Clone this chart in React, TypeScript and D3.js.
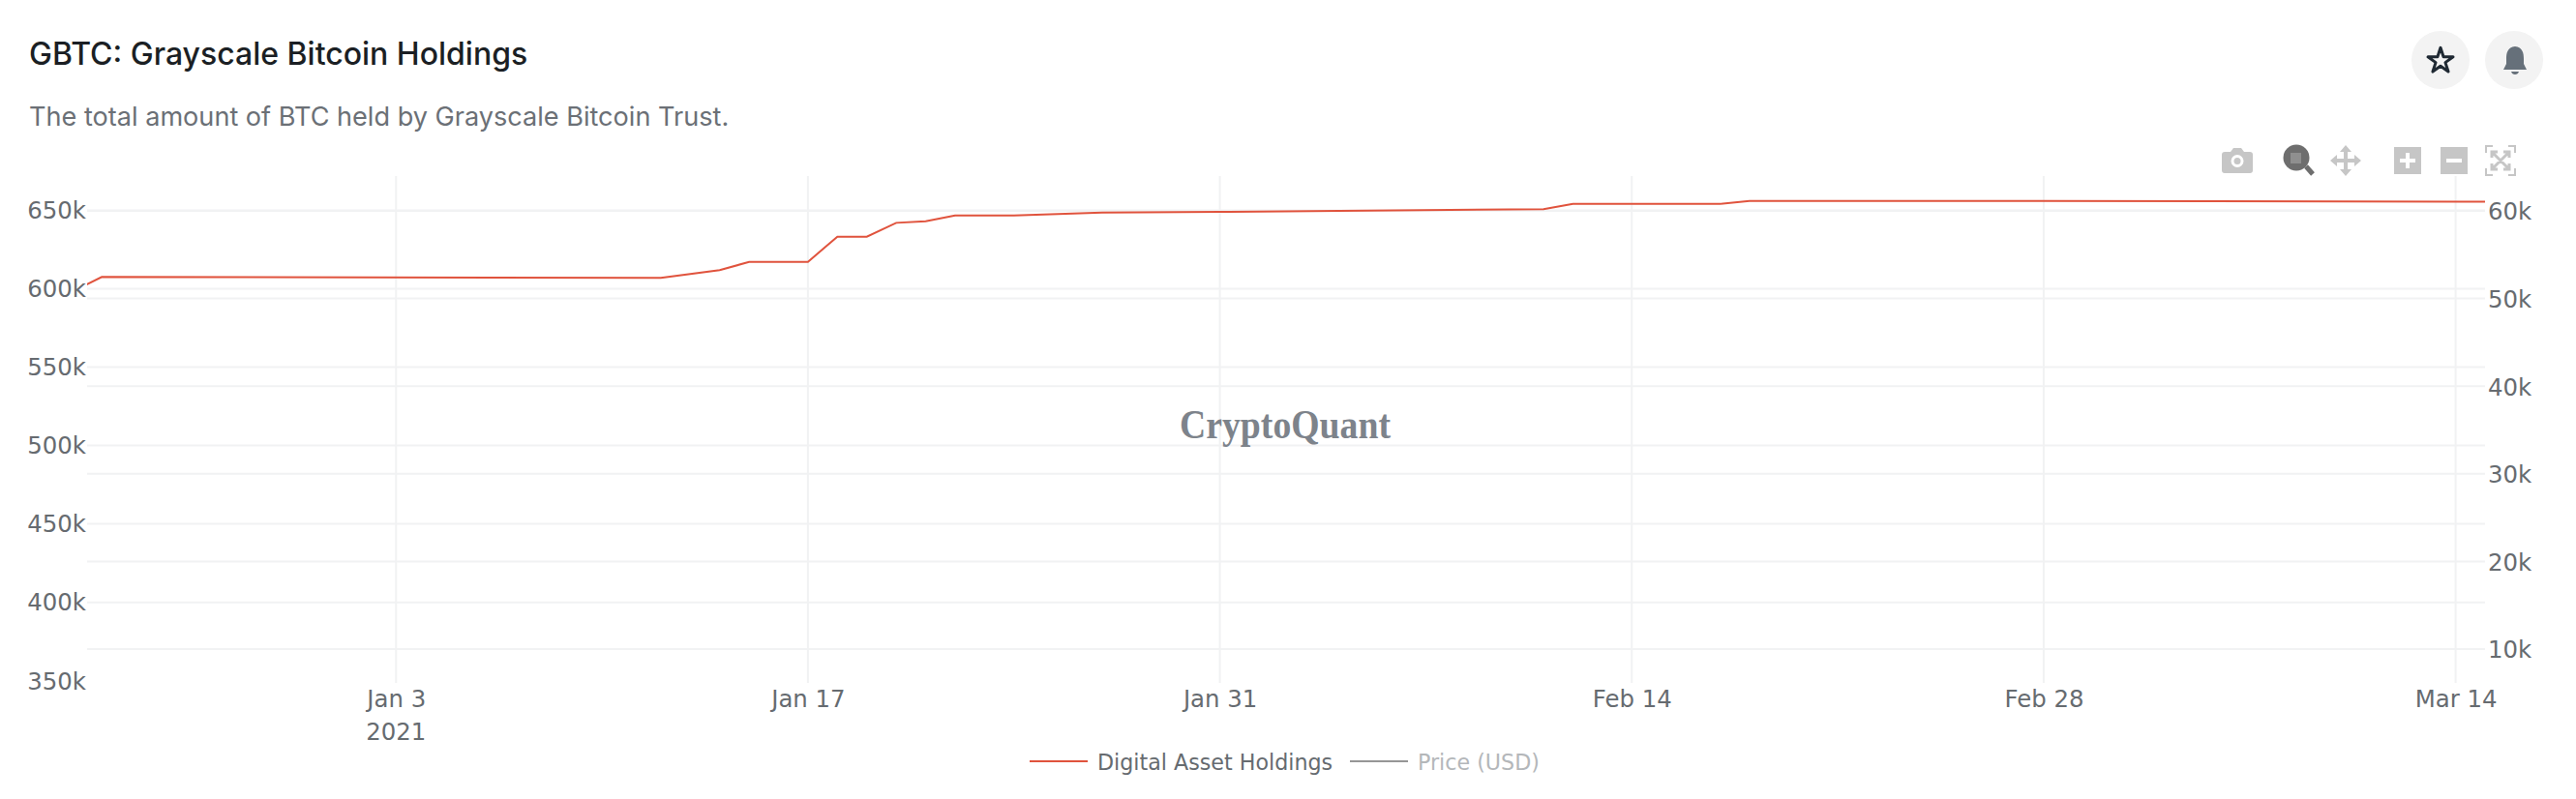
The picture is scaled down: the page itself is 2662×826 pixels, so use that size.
import { useEffect, useRef } from 'react';
import * as d3 from 'd3';

const days = [
  '2020-12-23', '2020-12-24', '2021-01-12', '2021-01-14', '2021-01-15', '2021-01-17',
  '2021-01-18', '2021-01-19', '2021-01-20', '2021-01-21', '2021-01-22', '2021-01-24',
  '2021-01-27', '2021-01-31', '2021-02-11', '2021-02-12', '2021-02-17', '2021-02-18',
  '2021-02-28', '2021-03-15',
];
const holdings = [
  598000, 607500, 606900, 611800, 617100, 617100,
  633200, 633200, 642000, 643000, 646700, 646700,
  648500, 649000, 650700, 654100, 654100, 656000,
  656000, 655500,
];
const leftTicks = [350000, 400000, 450000, 500000, 550000, 600000, 650000];
const rightTicks = [10000, 20000, 30000, 40000, 50000, 60000];
const dateTicks = ['2021-01-03', '2021-01-17', '2021-01-31', '2021-02-14', '2021-02-28', '2021-03-14'];
const dateLabels = ['Jan 3', 'Jan 17', 'Jan 31', 'Feb 14', 'Feb 28', 'Mar 14'];
const legendNames = ['Digital Asset Holdings', 'Price (USD)'];

const WIDTH = 2662;
const HEIGHT = 826;
const margin = { top: 182, right: 94, bottom: 121, left: 90 };
const axisFont = '"DejaVu Sans", sans-serif';
const gridColor = '#f1f2f3';
const textColor = '#666b70';
const iconColor = '#c6c6c6';

const kFormat = (d: d3.NumberValue) => `${+d / 1000}k`;

function drawAxes(svg: d3.Selection<SVGSVGElement, unknown, null, undefined>) {
  const plotRight = WIDTH - margin.right;
  const plotBottom = HEIGHT - margin.bottom;

  const x = d3
    .scaleUtc()
    .domain([new Date(Date.UTC(2020, 11, 23, 12)), new Date(Date.UTC(2021, 2, 15))])
    .range([margin.left, plotRight]);
  const yLeft = d3.scaleLinear().domain([349200, 671840]).range([plotBottom, margin.top]);
  const yRight = d3.scaleLinear().domain([6250, 63970]).range([plotBottom, margin.top]);

  const tickDates = dateTicks.map((d) => new Date(d));

  // grid lines, both y axes draw their own
  svg
    .append('g')
    .selectAll('line')
    .data(tickDates)
    .join('line')
    .attr('x1', (d) => x(d))
    .attr('x2', (d) => x(d))
    .attr('y1', margin.top)
    .attr('y2', plotBottom + 1)
    .attr('stroke', gridColor)
    .attr('stroke-width', 2);

  svg
    .append('g')
    .selectAll('line')
    .data([...leftTicks.slice(1).map((d) => yLeft(d)), ...rightTicks.map((d) => yRight(d))])
    .join('line')
    .attr('x1', margin.left)
    .attr('x2', plotRight)
    .attr('y1', (d) => d)
    .attr('y2', (d) => d)
    .attr('stroke', gridColor)
    .attr('stroke-width', 2);

  const styleAxis = (g: d3.Selection<SVGGElement, unknown, null, undefined>) => {
    g.select('.domain').remove();
    g.selectAll('.tick line').remove();
    g.selectAll('text').attr('fill', textColor).attr('font-family', axisFont).attr('font-size', 24.4);
  };

  svg
    .append('g')
    .attr('transform', `translate(${margin.left - 1},0.5)`)
    .call(d3.axisLeft(yLeft).tickValues(leftTicks).tickFormat(kFormat).tickSize(0).tickPadding(0))
    .call(styleAxis);

  svg
    .append('g')
    .attr('transform', `translate(${plotRight + 3},1)`)
    .call(d3.axisRight(yRight).tickValues(rightTicks).tickFormat(kFormat).tickSize(0).tickPadding(0))
    .call(styleAxis);

  svg
    .append('g')
    .attr('transform', `translate(0,${plotBottom + 9})`)
    .call(
      d3
        .axisBottom(x)
        .tickValues(tickDates)
        .tickFormat((_, i) => dateLabels[i])
        .tickSize(0)
        .tickPadding(0),
    )
    .call(styleAxis);

  svg
    .append('text')
    .attr('x', x(tickDates[0]))
    .attr('y', 765)
    .attr('text-anchor', 'middle')
    .attr('fill', textColor)
    .attr('font-family', axisFont)
    .attr('font-size', 24.4)
    .text('2021');

  svg
    .append('clipPath')
    .attr('id', 'plot-clip')
    .append('rect')
    .attr('x', margin.left)
    .attr('y', margin.top)
    .attr('width', plotRight - margin.left)
    .attr('height', plotBottom - margin.top);

  svg
    .append('text')
    .attr('x', 1219)
    .attr('y', 453)
    .attr('fill', '#7d838b')
    .attr('font-family', '"Liberation Serif", serif')
    .attr('font-weight', 700)
    .attr('font-size', 43)
    .attr('textLength', 218)
    .attr('lengthAdjust', 'spacingAndGlyphs')
    .text('CryptoQuant');

  const line = d3
    .line<number>()
    .x((_, i) => x(new Date(days[i])))
    .y((d) => yLeft(d));

  svg
    .append('path')
    .datum(holdings)
    .attr('clip-path', 'url(#plot-clip)')
    .attr('fill', 'none')
    .attr('stroke', '#e0533d')
    .attr('stroke-width', 2)
    .attr('d', line);
}

function drawHeader(svg: d3.Selection<SVGSVGElement, unknown, null, undefined>) {
  svg
    .append('text')
    .attr('x', 30)
    .attr('y', 67)
    .attr('fill', '#1b1f24')
    .attr('font-family', 'Inter, sans-serif')
    .attr('font-weight', 500)
    .attr('font-size', 32)
    .text('GBTC: Grayscale Bitcoin Holdings');

  svg
    .append('text')
    .attr('x', 30)
    .attr('y', 130)
    .attr('fill', '#6b7076')
    .attr('font-family', 'Inter, sans-serif')
    .attr('font-size', 27.1)
    .text('The total amount of BTC held by Grayscale Bitcoin Trust.');
}

function drawLegend(svg: d3.Selection<SVGSVGElement, unknown, null, undefined>) {
  const items = [
    { x: 1064, color: '#e0533d', fill: textColor },
    { x: 1395, color: '#969696', fill: '#b4b7ba' },
  ];
  items.forEach((item, i) => {
    const g = svg.append('g');
    g.append('line')
      .attr('x1', item.x)
      .attr('x2', item.x + 60)
      .attr('y1', 787)
      .attr('y2', 787)
      .attr('stroke', item.color)
      .attr('stroke-width', 2);
    g.append('text')
      .attr('x', item.x + 70)
      .attr('y', 796)
      .attr('fill', item.fill)
      .attr('font-family', axisFont)
      .attr('font-size', 22.2)
      .text(legendNames[i]);
  });
}

function drawIcons(svg: d3.Selection<SVGSVGElement, unknown, null, undefined>) {
  // round buttons top right
  [2522, 2598].forEach((cx) => {
    svg.append('circle').attr('cx', cx).attr('cy', 62).attr('r', 30).attr('fill', '#f3f3f3');
  });
  svg
    .append('path')
    .attr('transform', 'translate(2522,63)')
    .attr('d', d3.symbol(d3.symbolStar, 210)())
    .attr('fill', 'none')
    .attr('stroke', '#1f2933')
    .attr('stroke-width', 3)
    .attr('stroke-linejoin', 'round');
  svg
    .append('path')
    .attr('transform', 'translate(2599,62)')
    .attr('d', 'M0,-14 C-8,-13 -9,-7 -9,-1 L-9,4 L-12,10 L12,10 L9,4 L9,-1 C9,-7 8,-13 0,-14 Z M-4,12 L4,12 Q3,15 0,15 Q-3,15 -4,12 Z')
    .attr('fill', '#66707a');

  // plotly mode bar
  const bar = svg.append('g').attr('fill', iconColor);
  bar
    .append('path')
    .attr('fill-rule', 'evenodd')
    .attr('d', 'M2296,160 Q2296,157 2299,157 L2305,157 L2308,153 L2316,153 L2319,157 L2325,157 Q2328,157 2328,160 L2328,176 Q2328,179 2325,179 L2299,179 Q2296,179 2296,176 Z M2312,160 A6.5,6.5 0 1 0 2312,173 A6.5,6.5 0 1 0 2312,160 Z');
  bar.append('circle').attr('cx', 2312).attr('cy', 166.5).attr('r', 3.5);

  const zoom = svg.append('g');
  zoom.append('line').attr('x1', 2383).attr('y1', 172).attr('x2', 2390).attr('y2', 180).attr('stroke', '#6e6e6e').attr('stroke-width', 5);
  zoom.append('circle').attr('cx', 2373).attr('cy', 163).attr('r', 13.5).attr('fill', '#6e6e6e');
  zoom.append('rect').attr('x', 2367).attr('y', 158).attr('width', 11).attr('height', 11).attr('fill', '#8f8f8f');

  bar
    .append('path')
    .attr('d', 'M2424,150 L2430,157 L2426,157 L2426,164 L2433,164 L2433,160 L2440,166 L2433,172 L2433,168 L2426,168 L2426,175 L2430,175 L2424,182 L2418,175 L2422,175 L2422,168 L2415,168 L2415,172 L2408,166 L2415,160 L2415,164 L2422,164 L2422,157 L2418,157 Z');

  bar.append('rect').attr('x', 2474).attr('y', 152).attr('width', 28).attr('height', 28);
  svg.append('rect').attr('x', 2486).attr('y', 158).attr('width', 4).attr('height', 16).attr('fill', '#fff');
  svg.append('rect').attr('x', 2480).attr('y', 164).attr('width', 16).attr('height', 4).attr('fill', '#fff');
  bar.append('rect').attr('x', 2522).attr('y', 152).attr('width', 28).attr('height', 28);
  svg.append('rect').attr('x', 2528).attr('y', 164).attr('width', 16).attr('height', 4).attr('fill', '#fff');

  svg
    .append('path')
    .attr('fill', 'none')
    .attr('stroke', iconColor)
    .attr('stroke-width', 2)
    .attr('d', 'M2569,158 L2569,151 L2576,151 M2592,151 L2599,151 L2599,158 M2599,174 L2599,181 L2592,181 M2576,181 L2569,181 L2569,174');
  svg
    .append('path')
    .attr('fill', 'none')
    .attr('stroke', iconColor)
    .attr('stroke-width', 3)
    .attr('d', 'M2576,158 L2592,174 M2592,158 L2576,174 M2575,163 L2575,157 L2581,157 M2587,157 L2593,157 L2593,163 M2593,169 L2593,175 L2587,175 M2581,175 L2575,175 L2575,169');
}

export default function App() {
  const svgRef = useRef<SVGSVGElement>(null);

  useEffect(() => {
    if (!svgRef.current) return;
    const svg = d3.select(svgRef.current);
    svg.selectAll('*').remove();
    drawHeader(svg);
    drawAxes(svg);
    drawLegend(svg);
    drawIcons(svg);
  }, []);

  return (
    <svg
      ref={svgRef}
      width={WIDTH}
      height={HEIGHT}
      style={{ position: 'absolute', left: 0, top: 0, background: '#fff' }}
    />
  );
}
